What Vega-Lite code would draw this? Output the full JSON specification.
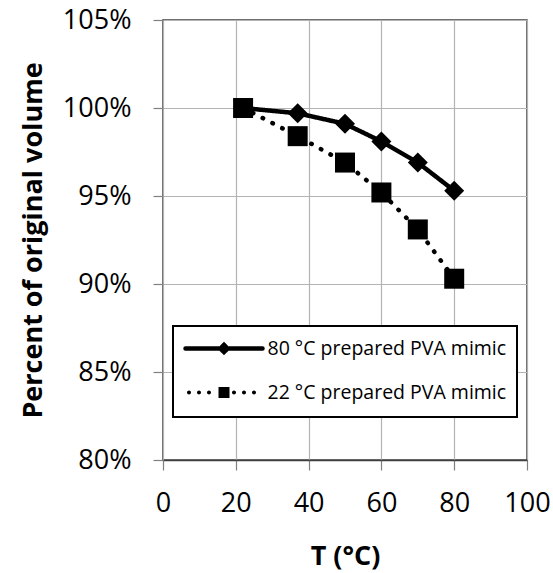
{
  "$schema": "https://vega.github.io/schema/vega-lite/v6.json",
  "width": 364,
  "height": 440,
  "autosize": "none",
  "padding": {"left": 163, "top": 20, "right": 26, "bottom": 113},
  "background": "white",
  "config": {
    "font": "Open Sans",
    "view": {"stroke": "#404040", "strokeWidth": 1.5},
    "axis": {
      "labelFont": "Open Sans",
      "labelFontSize": 27,
      "labelColor": "#000000",
      "titleFont": "Open Sans",
      "titleFontSize": 27,
      "titleFontWeight": "bold",
      "titleColor": "#000000",
      "gridColor": "#b3b3b3",
      "gridWidth": 1.2,
      "domainColor": "#404040",
      "domainWidth": 1.5,
      "tickColor": "#808080",
      "tickSize": 10,
      "tickWidth": 1.2
    }
  },
  "data": {
    "values": [
      {"T": 22, "volume": 100.0, "series": "80 °C prepared PVA mimic"},
      {"T": 37, "volume": 99.7, "series": "80 °C prepared PVA mimic"},
      {"T": 50, "volume": 99.1, "series": "80 °C prepared PVA mimic"},
      {"T": 60, "volume": 98.1, "series": "80 °C prepared PVA mimic"},
      {"T": 70, "volume": 96.9, "series": "80 °C prepared PVA mimic"},
      {"T": 80, "volume": 95.3, "series": "80 °C prepared PVA mimic"},
      {"T": 22, "volume": 100.0, "series": "22 °C prepared PVA mimic"},
      {"T": 37, "volume": 98.4, "series": "22 °C prepared PVA mimic"},
      {"T": 50, "volume": 96.9, "series": "22 °C prepared PVA mimic"},
      {"T": 60, "volume": 95.2, "series": "22 °C prepared PVA mimic"},
      {"T": 70, "volume": 93.1, "series": "22 °C prepared PVA mimic"},
      {"T": 80, "volume": 90.3, "series": "22 °C prepared PVA mimic"}
    ]
  },
  "encoding": {
    "x": {
      "field": "T",
      "type": "quantitative",
      "scale": {"domain": [0, 100], "nice": false},
      "axis": {
        "values": [0, 20, 40, 60, 80, 100],
        "title": "T (°C)",
        "labelPadding": 20,
        "titlePadding": 27,
        "labelFlush": false
      }
    },
    "y": {
      "field": "volume",
      "type": "quantitative",
      "scale": {"domain": [80, 105], "nice": false, "zero": false},
      "axis": {
        "values": [80, 85, 90, 95, 100, 105],
        "labelExpr": "datum.value + '%'",
        "title": "Percent of original volume",
        "labelPadding": 22,
        "titlePadding": 15,
        "domain": false
      }
    }
  },
  "layer": [
    {
      "mark": {"type": "line", "color": "#000000", "strokeWidth": 4.5, "strokeCap": "round"},
      "encoding": {
        "strokeDash": {
          "field": "series",
          "type": "nominal",
          "scale": {
            "domain": ["80 °C prepared PVA mimic", "22 °C prepared PVA mimic"],
            "range": [[1, 0], [0.5, 10.5]]
          },
          "legend": {
            "title": null,
            "orient": "none",
            "legendX": 10,
            "legendY": 306,
            "padding": 10,
            "strokeColor": "#000000",
            "fillColor": "#ffffff",
            "symbolSize": 400,
            "symbolOffset": 28.5,
            "labelOffset": 31,
            "rowPadding": 16,
            "labelFont": "Open Sans",
            "labelFontSize": 19.5,
            "labelColor": "#000000",
            "labelLimit": 400,
            "encoding": {
              "legend": {"strokeWidth": {"value": 2}},
              "symbols": {
                "shape": {
                  "condition": {"test": "datum.value === '80 °C prepared PVA mimic'", "value": "M-3.85,0H3.85M0,-0.36L0.36,0L0,0.36L-0.36,0Z"},
                  "value": "M-3.7,0a0.2,0.2 0 1,0 0.4,0a0.2,0.2 0 1,0 -0.4,0ZM-2.7,0a0.2,0.2 0 1,0 0.4,0a0.2,0.2 0 1,0 -0.4,0ZM-1.7,0a0.2,0.2 0 1,0 0.4,0a0.2,0.2 0 1,0 -0.4,0ZM-0.55,-0.55H0.55V0.55H-0.55ZM0.8,0a0.2,0.2 0 1,0 0.4,0a0.2,0.2 0 1,0 -0.4,0ZM1.8,0a0.2,0.2 0 1,0 0.4,0a0.2,0.2 0 1,0 -0.4,0ZM2.8,0a0.2,0.2 0 1,0 0.4,0a0.2,0.2 0 1,0 -0.4,0Z"
                },
                "stroke": {
                  "condition": {"test": "datum.value === '80 °C prepared PVA mimic'", "value": "#000000"},
                  "value": "transparent"
                },
                "fill": {"value": "#000000"},
                "strokeWidth": {"value": 4.5},
                "strokeCap": {"value": "round"},
                "opacity": {"value": 1}
              }
            }
          }
        }
      }
    },
    {
      "transform": [{"filter": "datum.series === '80 °C prepared PVA mimic'"}],
      "mark": {"type": "point", "shape": "diamond", "filled": true, "color": "#000000", "opacity": 1, "size": 400}
    },
    {
      "transform": [{"filter": "datum.series === '22 °C prepared PVA mimic'"}],
      "mark": {"type": "point", "shape": "square", "filled": true, "color": "#000000", "opacity": 1, "size": 400}
    }
  ]
}
